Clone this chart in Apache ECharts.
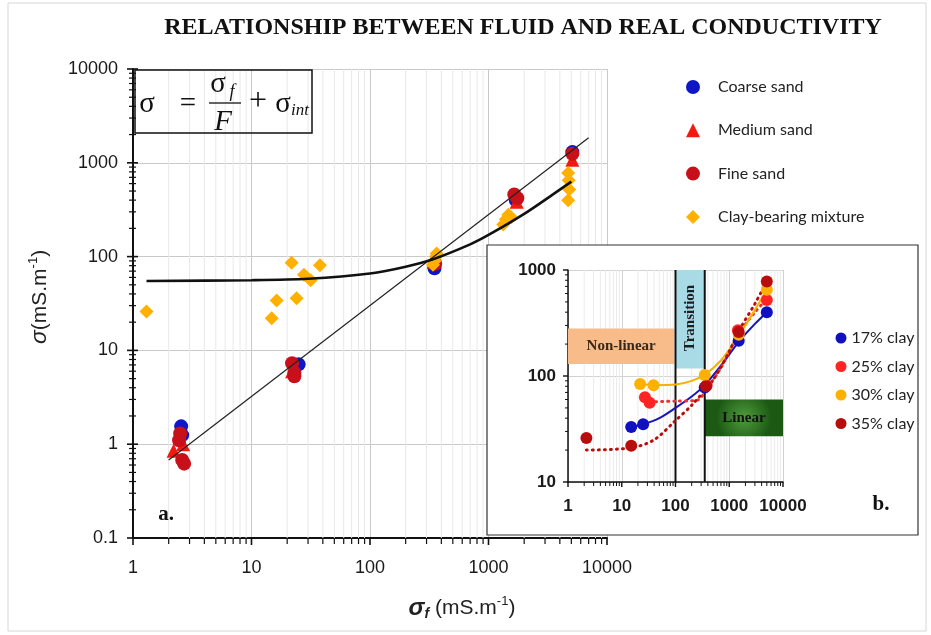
<!DOCTYPE html>
<html>
<head>
<meta charset="utf-8">
<script src="https://cdn.jsdelivr.net/npm/echarts@6/dist/echarts.min.js"></script>
<style>
  html, body { margin: 0; padding: 0; background: #ffffff; }
  #chart { width: 931px; height: 635px; }
</style>
</head>
<body>
<div id="chart"></div>
<script>
// ---------- Panel a: measured conductivities [sigma_f, sigma] in mS/m ----------
const coarseSand = [[2.55, 1.55], [2.6, 1.25], [25, 7.1], [350, 75], [1700, 400], [5100, 1300]];
const mediumSand = [[2.2, 0.85], [2.65, 1.0], [22, 6.0], [23, 6.6], [345, 88], [1730, 385], [5100, 1080]];
const fineSand = [[2.5, 1.3], [2.45, 1.1], [2.6, 0.68], [2.7, 0.62], [22, 7.3], [23, 5.8], [23, 5.3],
                  [355, 84], [1650, 460], [1750, 420], [5100, 1250]];
const clayMixture = [[1.3, 26], [14.8, 22], [16.3, 34], [21.8, 86], [24, 36], [27.7, 64], [31.6, 56], [37.8, 81],
                     [340, 82], [350, 90], [360, 100], [365, 108],
                     [1330, 220], [1400, 250], [1470, 280], [1550, 262],
                     [4700, 780], [4750, 650], [4800, 520], [4700, 400]];
// linear model sigma = sigma_f / F
const linearFit = [[2, 0.68], [7000, 1850]];
// model with interface term sigma = sigma_f / F + sigma_int
const interfaceFit = [[1.3, 55], [10, 56], [30, 58], [100, 66], [200, 78], [350, 95], [700, 135],
                      [1000, 170], [2000, 285], [3500, 460], [5000, 630]];

// ---------- Panel b: clay-bearing mixtures ----------
const clay17 = [[15, 33], [25, 35], [350, 78], [1500, 215], [5000, 400]];
const clay25 = [[27, 63], [33, 56], [380, 82], [1450, 270], [5000, 520]];
const clay30 = [[22, 84], [39, 82], [350, 102], [1500, 245], [5000, 650]];
const clay35 = [[2.2, 26], [15, 22], [370, 80], [1500, 260], [5000, 780]];
const fit17 = [[15, 33], [25, 35], [50, 40], [100, 50], [200, 64], [350, 82], [700, 125], [1500, 210], [3000, 310], [5000, 400]];
const fit25 = [[33, 57], [100, 58], [250, 59], [400, 78], [700, 120], [1500, 250], [3000, 400], [5000, 530]];
const fit30 = [[22, 84], [40, 82], [100, 83], [200, 90], [350, 103], [700, 140], [1500, 240], [3000, 420], [5000, 650]];
const fit35 = [[2.2, 20], [15, 21], [40, 25], [100, 38], [200, 53], [500, 92], [1000, 170], [1500, 265], [3000, 480], [5000, 780]];

// conduction regimes in panel b
const zoneNames = ['Non-linear', 'Transition', 'Linear'];
const zoneX0 = [1, 100, 350];
const zoneX1 = [95, 350, 10000];
const zoneY0 = [130, 118, 27];
const zoneY1 = [280, 1000, 60];
const regimeBounds = [100, 350];

// ---------- axes ----------
const MAIN_X = [1, 10000], MAIN_Y = [0.1, 10000];
const INSET_X = [1, 10000], INSET_Y = [10, 1000];
const multipliers = [2, 3, 4, 5, 6, 7, 8, 9];
const minorOf = decades => decades.flatMap(d => multipliers.map(m => +(d * m).toPrecision(6)));
const mainMajorX = [1, 10, 100, 1000, 10000];
const mainMinorX = minorOf([1, 10, 100, 1000]);
const mainMajorY = [0.1, 1, 10, 100, 1000, 10000];
const mainMinorY = minorOf([0.1, 1, 10, 100, 1000]);
const insetMajorX = [1, 10, 100, 1000, 10000];
const insetMinorX = minorOf([1, 10, 100, 1000]);
const insetMajorY = [10, 100, 1000];
const insetMinorY = minorOf([10, 100]);

const SANS = '"Liberation Sans", Arial, sans-serif';
const SERIF = '"Liberation Serif", "Times New Roman", serif';
const LEGEND_FONT = 'Lato, "Open Sans", sans-serif';

const fmt = v => String(Number(Number(v).toPrecision(4)));

// short straight strokes placed through the axis scales (ticks, minor grid, regime bounds)
function strokes(o) {
  return {
    type: 'custom', xAxisIndex: o.xi, yAxisIndex: o.yi, silent: true, z: o.z, clip: false,
    tooltip: { show: false },
    data: o.values.map(v => (o.axis === 'x' ? [v, o.at] : [o.at, v])),
    renderItem: (params, api) => {
      const p = api.coord([api.value(0), api.value(1)]);
      let shape;
      if (o.span !== undefined) {
        const q = api.coord(o.axis === 'x' ? [api.value(0), o.span] : [o.span, api.value(1)]);
        shape = { x1: p[0], y1: p[1], x2: q[0], y2: q[1] };
      } else if (o.axis === 'x') {
        shape = { x1: p[0], y1: p[1] + o.a, x2: p[0], y2: p[1] + o.b };
      } else {
        shape = { x1: p[0] + o.a, y1: p[1], x2: p[0] + o.b, y2: p[1] };
      }
      return { type: 'line', shape, style: { stroke: o.color, lineWidth: o.width } };
    }
  };
}

const zoneFill = [
  '#f8bb8a',
  '#a9dbe7',
  { type: 'radial', x: 0.5, y: 0.5, r: 0.75, colorStops: [{ offset: 0, color: '#4f9c3c' }, { offset: 1, color: '#1c5a14' }] }
];
const zoneText = ['#3a2816', '#1e1e1e', '#111111'];

const zonesSeries = {
  type: 'custom', xAxisIndex: 1, yAxisIndex: 1, silent: true, z: 11, clip: false,
  data: zoneNames.map((n, i) => [zoneX0[i], zoneY0[i], zoneX1[i], zoneY1[i]]),
  renderItem: (params, api) => {
    const i = params.dataIndex;
    const a = api.coord([api.value(0), api.value(3)]);
    const b = api.coord([api.value(2), api.value(1)]);
    const cx = (a[0] + b[0]) / 2, cy = (a[1] + b[1]) / 2;
    const vertical = i === 1;
    return {
      type: 'group',
      children: [
        { type: 'rect', shape: { x: a[0], y: a[1], width: b[0] - a[0], height: b[1] - a[1] }, style: { fill: zoneFill[i] } },
        {
          type: 'text', x: cx, y: vertical ? a[1] + 48 : cy, rotation: vertical ? Math.PI / 2 : 0,
          style: { text: zoneNames[i], fill: zoneText[i], font: 'bold 15px ' + SERIF, align: 'center', verticalAlign: 'middle' }
        }
      ]
    };
  }
};

const solid = c => ({ color: c, opacity: 1 });

const chart = echarts.init(document.getElementById('chart'), null, { renderer: 'canvas' });

const option = {
  backgroundColor: '#ffffff',
  animation: false,
  grid: [
    { left: 133, top: 69, width: 474, height: 469 },
    { left: 568, top: 270, width: 215, height: 212 }
  ],
  xAxis: [
    {
      type: 'log', logBase: 10, gridIndex: 0, min: MAIN_X[0], max: MAIN_X[1], z: 0,
      axisLine: { lineStyle: { color: '#111', width: 2 } },
      axisTick: { show: false },
      axisLabel: { formatter: fmt, color: '#1a1a1a', fontFamily: SANS, fontSize: 18, margin: 21 },
      splitLine: { show: true, lineStyle: { color: '#c9c9c9', width: 1 } },
      minorTick: { show: false }, minorSplitLine: { show: false }
    },
    {
      type: 'log', logBase: 10, gridIndex: 1, min: INSET_X[0], max: INSET_X[1], z: 10,
      axisLine: { lineStyle: { color: '#111', width: 1.5 } },
      axisTick: { show: false },
      axisLabel: { formatter: fmt, color: '#1a1a1a', fontFamily: SANS, fontWeight: 'bold', fontSize: 17, margin: 16 },
      splitLine: { show: true, lineStyle: { color: '#d2d2d2', width: 1 } }
    }
  ],
  yAxis: [
    {
      type: 'log', logBase: 10, gridIndex: 0, min: MAIN_Y[0], max: MAIN_Y[1], z: 0,
      axisLine: { lineStyle: { color: '#111', width: 2 } },
      axisTick: { show: false },
      axisLabel: { formatter: fmt, color: '#1a1a1a', fontFamily: SANS, fontSize: 18, margin: 15 },
      splitLine: { show: true, lineStyle: { color: '#c9c9c9', width: 1 } }
    },
    {
      type: 'log', logBase: 10, gridIndex: 1, min: INSET_Y[0], max: INSET_Y[1], z: 10,
      axisLine: { lineStyle: { color: '#111', width: 1.5 } },
      axisTick: { show: false },
      axisLabel: { formatter: fmt, color: '#1a1a1a', fontFamily: SANS, fontWeight: 'bold', fontSize: 17, margin: 12 },
      splitLine: { show: true, lineStyle: { color: '#d2d2d2', width: 1 } }
    }
  ],
  legend: [
    {
      orient: 'vertical', left: 681, top: 72, z: 20,
      itemWidth: 14, itemHeight: 14, itemGap: 23.3,
      textStyle: { fontFamily: LEGEND_FONT, fontSize: 16, color: '#222', lineHeight: 20, padding: [0, 0, 0, 13] },
      data: [
        { name: 'Coarse sand', icon: 'circle' },
        { name: 'Medium sand', icon: 'triangle' },
        { name: 'Fine sand', icon: 'circle' },
        { name: 'Clay-bearing mixture', icon: 'diamond' }
      ]
    },
    {
      orient: 'vertical', left: 830.5, top: 324, z: 20,
      itemWidth: 11, itemHeight: 11, itemGap: 10.5,
      textStyle: { fontFamily: LEGEND_FONT, fontSize: 16, color: '#222', lineHeight: 18 },
      data: [
        { name: '17% clay', icon: 'circle' },
        { name: '25% clay', icon: 'circle' },
        { name: '30% clay', icon: 'circle' },
        { name: '35% clay', icon: 'circle' }
      ]
    }
  ],
  graphic: [
    { type: 'rect', z: 0, silent: true, shape: { x: 8, y: 3, width: 918, height: 628 }, style: { fill: 'none', stroke: '#d6d6d6', lineWidth: 1 } },
    {
      type: 'text', z: 20, x: 523, y: 28,
      style: { text: 'RELATIONSHIP BETWEEN FLUID AND REAL CONDUCTIVITY', font: 'bold 24px ' + SERIF, fill: '#111', align: 'center', verticalAlign: 'middle' }
    },
    // equation box
    { type: 'rect', z: 20, shape: { x: 135, y: 70, width: 177, height: 63 }, style: { fill: 'none', stroke: '#111', lineWidth: 1.5 } },
    { type: 'text', z: 20, x: 147, y: 104, style: { text: 'σ', font: '29px ' + SERIF, fill: '#111', align: 'center', verticalAlign: 'middle' } },
    { type: 'text', z: 20, x: 188, y: 104, style: { text: '=', font: '29px ' + SERIF, fill: '#111', align: 'center', verticalAlign: 'middle' } },
    { type: 'text', z: 20, x: 218, y: 84, style: { text: 'σ', font: '29px ' + SERIF, fill: '#111', align: 'center', verticalAlign: 'middle' } },
    { type: 'text', z: 20, x: 232, y: 92, style: { text: 'f', font: 'italic 18px ' + SERIF, fill: '#111', align: 'center', verticalAlign: 'middle' } },
    { type: 'line', z: 20, shape: { x1: 209, y1: 103, x2: 241, y2: 103 }, style: { stroke: '#111', lineWidth: 1.3 } },
    { type: 'text', z: 20, x: 223, y: 122, style: { text: 'F', font: 'italic 29px ' + SERIF, fill: '#111', align: 'center', verticalAlign: 'middle' } },
    { type: 'text', z: 20, x: 258, y: 102, style: { text: '+', font: '32px ' + SERIF, fill: '#111', align: 'center', verticalAlign: 'middle' } },
    { type: 'text', z: 20, x: 283, y: 104, style: { text: 'σ', font: '29px ' + SERIF, fill: '#111', align: 'center', verticalAlign: 'middle' } },
    { type: 'text', z: 20, x: 291, y: 111, style: { text: 'int', font: 'italic 17px ' + SERIF, fill: '#111', align: 'left', verticalAlign: 'middle' } },
    // axis names
    {
      type: 'text', z: 20, x: 40, y: 297, rotation: Math.PI / 2,
      style: {
        text: '{s|σ}(mS.m{sup|-1})', font: '21px ' + SANS, fill: '#222', align: 'center', verticalAlign: 'middle',
        rich: {
          s: { font: 'italic 23px ' + SANS, fill: '#222', lineHeight: 26 },
          sup: { font: '13px ' + SANS, fill: '#222', verticalAlign: 'top', lineHeight: 14 }
        }
      }
    },
    {
      type: 'text', z: 20, x: 462, y: 608,
      style: {
        text: '{s|σ}{sub|f} (mS.m{sup|-1})', font: '21px ' + SANS, fill: '#222', align: 'center', verticalAlign: 'middle',
        rich: {
          s: { font: 'bold italic 24px ' + SANS, fill: '#222', lineHeight: 26 },
          sub: { font: 'bold italic 14px ' + SANS, fill: '#222', verticalAlign: 'bottom', lineHeight: 12 },
          sup: { font: '13px ' + SANS, fill: '#222', verticalAlign: 'top', lineHeight: 14 }
        }
      }
    },
    { type: 'text', z: 20, x: 166, y: 515, style: { text: 'a.', font: 'bold 21px ' + SERIF, fill: '#111', align: 'center', verticalAlign: 'middle' } },
    // panel b frame
    { type: 'rect', z: 5, shape: { x: 487, y: 245, width: 431, height: 290 }, style: { fill: '#ffffff', stroke: '#333', lineWidth: 1.2 } },
    { type: 'text', z: 20, x: 881, y: 505, style: { text: 'b.', font: 'bold 21px ' + SERIF, fill: '#111', align: 'center', verticalAlign: 'middle' } }
  ],
  series: [
    // panel a: minor grid and ticks
    strokes({ xi: 0, yi: 0, axis: 'x', values: mainMinorX, at: MAIN_Y[0], span: MAIN_Y[1], color: '#e8e8e8', width: 1, z: 1 }),
    strokes({ xi: 0, yi: 0, axis: 'x', values: mainMajorX, at: MAIN_Y[0], a: 0, b: 7, color: '#111', width: 1.6, z: 3 }),
    strokes({ xi: 0, yi: 0, axis: 'x', values: mainMinorX, at: MAIN_Y[0], a: 0, b: 6, color: '#111', width: 1.2, z: 3 }),
    strokes({ xi: 0, yi: 0, axis: 'y', values: mainMajorY, at: MAIN_X[0], a: -6, b: 5, color: '#111', width: 1.6, z: 3 }),
    strokes({ xi: 0, yi: 0, axis: 'y', values: mainMinorY, at: MAIN_X[0], a: -4, b: 3, color: '#111', width: 1.2, z: 3 }),
    {
      name: 'Coarse sand', type: 'scatter', xAxisIndex: 0, yAxisIndex: 0, z: 2, data: coarseSand,
      symbol: 'circle', symbolSize: 14, itemStyle: solid('#0f16c8')
    },
    {
      name: 'Medium sand', type: 'scatter', xAxisIndex: 0, yAxisIndex: 0, z: 2, data: mediumSand,
      symbol: 'triangle', symbolSize: 14, itemStyle: solid('#f21a10')
    },
    {
      name: 'Fine sand', type: 'scatter', xAxisIndex: 0, yAxisIndex: 0, z: 2, data: fineSand,
      symbol: 'circle', symbolSize: 14, itemStyle: solid('#c8101a')
    },
    {
      name: 'Clay-bearing mixture', type: 'scatter', xAxisIndex: 0, yAxisIndex: 0, z: 2, data: clayMixture,
      symbol: 'diamond', symbolSize: 14, itemStyle: solid('#ffb000')
    },
    {
      name: 'sigma_f / F', type: 'line', xAxisIndex: 0, yAxisIndex: 0, z: 4, data: linearFit,
      symbol: 'none', silent: true, lineStyle: { color: '#222', width: 1.2 }
    },
    {
      name: 'sigma_f / F + sigma_int', type: 'line', xAxisIndex: 0, yAxisIndex: 0, z: 4, data: interfaceFit,
      symbol: 'none', smooth: 0.3, silent: true, lineStyle: { color: '#111', width: 2.6 }
    },

    // panel b
    strokes({ xi: 1, yi: 1, axis: 'x', values: insetMinorX, at: INSET_Y[0], span: INSET_Y[1], color: '#ebebeb', width: 1, z: 10 }),
    zonesSeries,
    strokes({ xi: 1, yi: 1, axis: 'x', values: regimeBounds, at: INSET_Y[0], span: INSET_Y[1], color: '#111', width: 2, z: 12 }),
    strokes({ xi: 1, yi: 1, axis: 'x', values: insetMajorX, at: INSET_Y[0], a: 0, b: 5, color: '#111', width: 1.4, z: 12 }),
    strokes({ xi: 1, yi: 1, axis: 'x', values: insetMinorX, at: INSET_Y[0], a: 0, b: 4, color: '#111', width: 1, z: 12 }),
    strokes({ xi: 1, yi: 1, axis: 'y', values: insetMajorY, at: INSET_X[0], a: -5, b: 0, color: '#111', width: 1.4, z: 12 }),
    strokes({ xi: 1, yi: 1, axis: 'y', values: insetMinorY, at: INSET_X[0], a: -3, b: 0, color: '#111', width: 1, z: 12 }),
    {
      name: '17% clay fit', type: 'line', xAxisIndex: 1, yAxisIndex: 1, z: 13, data: fit17, symbol: 'none', smooth: 0.3, silent: true,
      lineStyle: { color: '#1515c0', width: 2 }
    },
    {
      name: '25% clay fit', type: 'line', xAxisIndex: 1, yAxisIndex: 1, z: 13, data: fit25, symbol: 'none', smooth: 0.3, silent: true,
      lineStyle: { color: '#f03030', width: 3, type: [1, 5], cap: 'round' }
    },
    {
      name: '30% clay fit', type: 'line', xAxisIndex: 1, yAxisIndex: 1, z: 13, data: fit30, symbol: 'none', smooth: 0.3, silent: true,
      lineStyle: { color: '#f5b000', width: 2 }
    },
    {
      name: '35% clay fit', type: 'line', xAxisIndex: 1, yAxisIndex: 1, z: 13, data: fit35, symbol: 'none', smooth: 0.3, silent: true,
      lineStyle: { color: '#b51010', width: 3, type: [1, 5], cap: 'round' }
    },
    { name: '17% clay', type: 'scatter', xAxisIndex: 1, yAxisIndex: 1, z: 14, data: clay17, symbol: 'circle', symbolSize: 12, itemStyle: solid('#1010c0') },
    { name: '25% clay', type: 'scatter', xAxisIndex: 1, yAxisIndex: 1, z: 14, data: clay25, symbol: 'circle', symbolSize: 12, itemStyle: solid('#ff2424') },
    { name: '30% clay', type: 'scatter', xAxisIndex: 1, yAxisIndex: 1, z: 14, data: clay30, symbol: 'circle', symbolSize: 12, itemStyle: solid('#ffb000') },
    { name: '35% clay', type: 'scatter', xAxisIndex: 1, yAxisIndex: 1, z: 14, data: clay35, symbol: 'circle', symbolSize: 12, itemStyle: solid('#b80d0d') }
  ]
};

chart.setOption(option);
</script>
</body>
</html>
